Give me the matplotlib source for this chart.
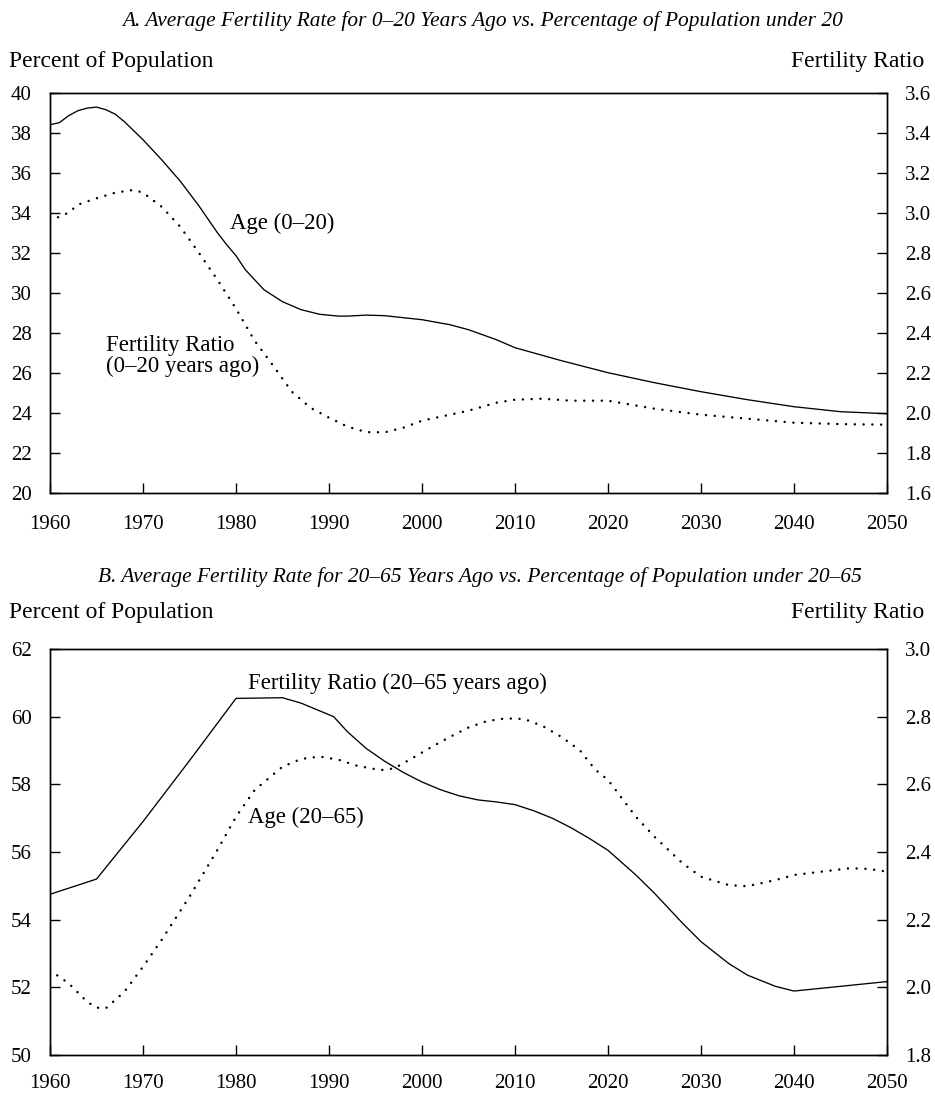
import matplotlib
matplotlib.use("Agg")
import matplotlib.pyplot as plt

plt.rcParams['font.family'] = ['Liberation Serif', 'DejaVu Serif']

# ---------------- Panel A data ----------------
years_a_age = [1960, 1961, 1962, 1963, 1964, 1965, 1966, 1967, 1968, 1970, 1972, 1974, 1976, 1978,
               1979, 1980, 1981, 1982, 1983, 1985, 1987, 1989, 1991, 1992, 1994, 1996, 1998, 2000,
               2003, 2005, 2008, 2010, 2015, 2020, 2025, 2030, 2035, 2040, 2045, 2050]
age_0_20 = [38.4, 38.5, 38.85, 39.1, 39.23, 39.28, 39.15, 38.93, 38.55, 37.65, 36.65, 35.58, 34.35, 33.0,
            32.4, 31.85, 31.15, 30.65, 30.15, 29.55, 29.15, 28.92, 28.83, 28.83, 28.88, 28.85, 28.75, 28.65,
            28.4, 28.15, 27.65, 27.25, 26.6, 26.0, 25.5, 25.05, 24.65, 24.3, 24.05, 23.95]

years_a_fert = [1960, 1962, 1963, 1965, 1967, 1969, 1970, 1972, 1974, 1976, 1978, 1980, 1982, 1984,
                1986, 1988, 1990, 1992, 1994, 1996, 1998, 2000, 2003, 2005, 2008, 2010, 2013, 2016,
                2020, 2025, 2030, 2035, 2040, 2045, 2050]
fert_0_20 = [2.96, 3.0, 3.04, 3.072, 3.10, 3.114, 3.10, 3.03, 2.93, 2.80, 2.665, 2.52, 2.36, 2.235,
             2.105, 2.025, 1.975, 1.93, 1.903, 1.902, 1.925, 1.96, 1.99, 2.01, 2.05, 2.065, 2.07, 2.06,
             2.06, 2.02, 1.99, 1.97, 1.95, 1.943, 1.94]

# ---------------- Panel B data ----------------
years_b_fert = [1960, 1965, 1970, 1975, 1980, 1985, 1987, 1990.5, 1992, 1994, 1996, 1998, 2000, 2002,
                2004, 2006, 2008, 2010, 2012, 2014, 2016, 2018, 2020, 2023, 2025, 2028, 2030, 2033,
                2035, 2038, 2040, 2045, 2050]
fert_20_65 = [2.275, 2.32, 2.49, 2.67, 2.854, 2.856, 2.84, 2.80, 2.755, 2.706, 2.668, 2.635, 2.607, 2.584,
              2.566, 2.554, 2.548, 2.54, 2.522, 2.50, 2.472, 2.44, 2.405, 2.332, 2.278, 2.19, 2.135, 2.07,
              2.036, 2.003, 1.989, 2.003, 2.017]

years_b_age = [1960, 1962, 1964, 1965, 1966, 1968, 1970, 1972, 1975, 1978, 1980, 1982, 1985, 1987,
               1989, 1991, 1993, 1995.5, 1997, 1999, 2001, 2003, 2005, 2007, 2009, 2011, 2013, 2015,
               2017, 2018.6, 2020, 2023, 2025, 2028, 2030, 2033, 2035, 2038, 2040, 2043, 2046, 2048, 2050]
age_20_65 = [52.5, 52.12, 51.57, 51.4, 51.38, 51.87, 52.61, 53.4, 54.68, 56.06, 57.04, 57.83, 58.52, 58.75,
             58.82, 58.73, 58.55, 58.42, 58.47, 58.78, 59.1, 59.4, 59.68, 59.87, 59.95, 59.93, 59.72, 59.4,
             59.0, 58.44, 58.13, 57.04, 56.45, 55.67, 55.27, 55.02, 54.99, 55.17, 55.32, 55.42, 55.52, 55.5, 55.42]

x_ticks = [1960, 1970, 1980, 1990, 2000, 2010, 2020, 2030, 2040, 2050]
a_left_ticks = [20, 22, 24, 26, 28, 30, 32, 34, 36, 38, 40]
a_right_ticks = [1.6, 1.8, 2.0, 2.2, 2.4, 2.6, 2.8, 3.0, 3.2, 3.4, 3.6]
b_left_ticks = [50, 52, 54, 56, 58, 60, 62]
b_right_ticks = [1.8, 2.0, 2.2, 2.4, 2.6, 2.8, 3.0]

W, H = 935, 1100
fig = plt.figure(figsize=(W / 100, H / 100), dpi=100)

def fx(x):
    return x / W

def fy(y):
    return 1 - y / H

TICK_FS = 15
LAB_FS = 17
TITLE_FS = 15.4
ANN_FS = 16.4
SOLID = dict(color='black', lw=0.95, solid_joinstyle='round')
DOTTED = dict(color='black', lw=1.8, linestyle=(0, (0.01, 3.5)), dash_capstyle='round')


def make_axes(top, bottom, xpad):
    ax = fig.add_axes([fx(50), fy(bottom), fx(887) - fx(50), (bottom - top) / H])
    ax2 = ax.twinx()
    for a in (ax, ax2):
        for s in a.spines.values():
            s.set_linewidth(1.0)
    ax.set_xlim(1960, 2050)
    ax.set_xticks(x_ticks)
    ax.tick_params(axis='x', direction='in', length=7, width=1.0, pad=xpad, labelsize=TICK_FS,
                   top=False)
    ax.tick_params(axis='y', direction='in', length=7, width=1.0, pad=13, labelsize=TICK_FS)
    ax2.tick_params(axis='y', direction='in', length=7, width=1.0, pad=13, labelsize=TICK_FS)
    return ax, ax2

# ---------------- Panel A ----------------
axA, axA2 = make_axes(92.7, 492.7, 16)
axA.set_ylim(20, 40)
axA.set_yticks(a_left_ticks)
axA2.set_ylim(1.6, 3.6)
axA2.set_yticks(a_right_ticks)
axA2.set_yticklabels([f"{v:.1f}" for v in a_right_ticks])
axA.plot(years_a_age, age_0_20, **SOLID)
axA2.plot(years_a_fert, fert_0_20, **DOTTED)

fig.text(fx(483), fy(20.7), "A. Average Fertility Rate for 0\u201320 Years Ago vs. Percentage of Population under 20",
         ha='center', va='center', fontsize=TITLE_FS, style='italic')
fig.text(fx(9), fy(61.7), "Percent of Population", ha='left', va='center', fontsize=LAB_FS)
fig.text(fx(924), fy(61.7), "Fertility Ratio", ha='right', va='center', fontsize=LAB_FS)
fig.text(fx(230), fy(223), "Age (0\u201320)", ha='left', va='center', fontsize=ANN_FS)
fig.text(fx(106), fy(345), "Fertility Ratio", ha='left', va='center', fontsize=ANN_FS)
fig.text(fx(106), fy(366), "(0\u201320 years ago)", ha='left', va='center', fontsize=ANN_FS)

# ---------------- Panel B ----------------
axB, axB2 = make_axes(649, 1055, 14)
axB.set_ylim(50, 62)
axB.set_yticks(b_left_ticks)
axB2.set_ylim(1.8, 3.0)
axB2.set_yticks(b_right_ticks)
axB2.set_yticklabels([f"{v:.1f}" for v in b_right_ticks])
axB2.plot(years_b_fert, fert_20_65, **SOLID)
axB.plot(years_b_age, age_20_65, **DOTTED)

fig.text(fx(480), fy(576.7), "B. Average Fertility Rate for 20\u201365 Years Ago vs. Percentage of Population under 20\u201365",
         ha='center', va='center', fontsize=TITLE_FS, style='italic')
fig.text(fx(9), fy(612.7), "Percent of Population", ha='left', va='center', fontsize=LAB_FS)
fig.text(fx(924), fy(612.7), "Fertility Ratio", ha='right', va='center', fontsize=LAB_FS)
fig.text(fx(248), fy(683), "Fertility Ratio (20\u201365 years ago)", ha='left', va='center', fontsize=ANN_FS)
fig.text(fx(248), fy(817), "Age (20\u201365)", ha='left', va='center', fontsize=ANN_FS)

fig.savefig("out.png", dpi=100)
